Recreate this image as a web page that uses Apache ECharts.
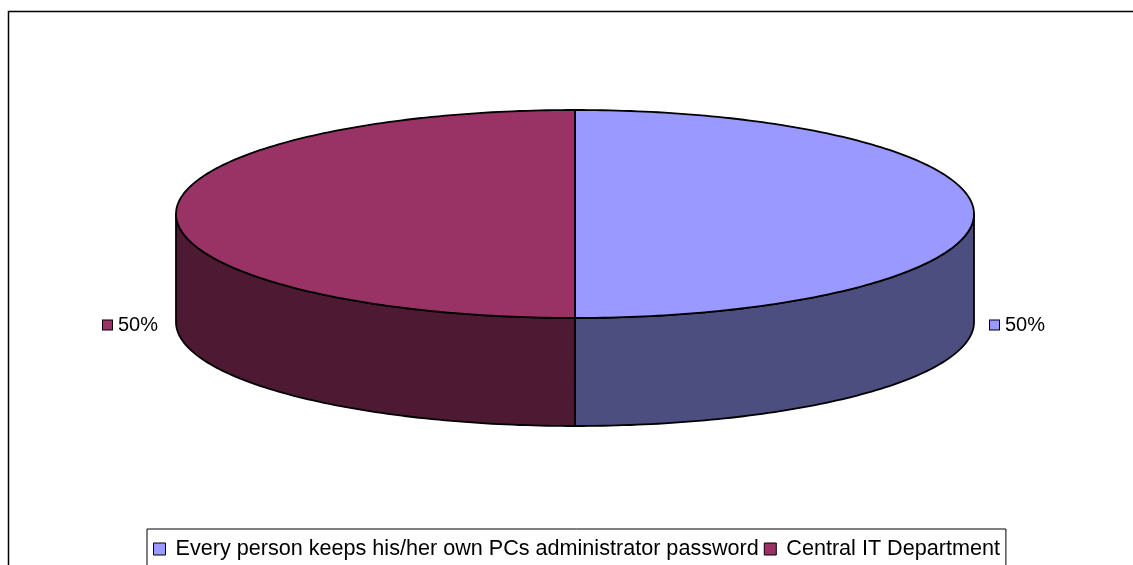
<!DOCTYPE html>
<html>
<head>
<meta charset="utf-8">
<script src="https://cdn.jsdelivr.net/npm/echarts@6/dist/echarts.min.js"></script>
<style>
  html, body { margin: 0; padding: 0; background: #fff; }
  #chart { width: 1133px; height: 565px; }
</style>
</head>
<body>
<div id="chart"></div>
<script>
// Who keeps the PC administrator password
const categories = [
  'Every person keeps his/her own PCs administrator password',
  'Central IT Department'
];
const shares = [50, 50];
const topColors = ['#9999FF', '#993366'];
const sideColors = ['#4D4E80', '#4E1A33'];

// 3D pie layout (pixels): centre of the top face, radii, and wall depth
const PIE = { cx: 575, cy: 214, rx: 399, ry: 104, depth: 108 };
const FONT = 'Liberation Sans, Arial, sans-serif';

const total = shares.reduce((a, b) => a + b, 0);
const starts = [];
shares.reduce((acc, v, i) => { starts[i] = acc; return acc + v; }, 0);

// angle in degrees, clockwise from 12 o'clock
function pt(deg, dz) {
  const r = deg * Math.PI / 180;
  return [PIE.cx + PIE.rx * Math.sin(r), PIE.cy - PIE.ry * Math.cos(r) + (dz || 0)];
}
function arc(a0, a1, dz) {
  const pts = [];
  const n = Math.max(2, Math.ceil(Math.abs(a1 - a0)));
  for (let k = 0; k <= n; k++) pts.push(pt(a0 + (a1 - a0) * k / n, dz));
  return pts;
}

function sliceRenderer(idx) {
  return function (params, api) {
    const value = api.value(0);
    const a0 = starts[idx] / total * 360;
    const a1 = a0 + value / total * 360;
    const children = [];
    const stroke = { stroke: '#000', lineWidth: 1.8, lineJoin: 'round' };

    // front wall (visible between 90° and 270°)
    const s = Math.max(a0, 90), e = Math.min(a1, 270);
    if (s < e) {
      const side = arc(s, e, 0).concat(arc(e, s, PIE.depth));
      children.push({
        type: 'polygon',
        shape: { points: side },
        style: Object.assign({ fill: sideColors[idx] }, stroke)
      });
    }

    // top face
    const top = [[PIE.cx, PIE.cy]].concat(arc(a0, a1, 0));
    children.push({
      type: 'polygon',
      shape: { points: top },
      style: Object.assign({ fill: topColors[idx] }, stroke)
    });

    // outside label: colour key + percentage
    const mid = (a0 + a1) / 2;
    const anchor = pt(mid, PIE.depth);
    const right = Math.sin(mid * Math.PI / 180) >= 0;
    const pct = Math.round(value / total * 100) + '%';
    children.push({
      type: 'text',
      x: anchor[0] + (right ? 16 : -18),
      y: anchor[1] + 3,
      style: {
        text: '{sq|}{t|' + pct + '}',
        align: right ? 'left' : 'right',
        verticalAlign: 'middle',
        rich: {
          sq: {
            width: 9, height: 9,
            backgroundColor: topColors[idx],
            borderColor: '#000', borderWidth: 1
          },
          t: {
            fontSize: 20, fontFamily: FONT, fill: '#000',
            padding: [0, 0, 0, 6]
          }
        }
      }
    });
    return { type: 'group', children: children };
  };
}

const chart = echarts.init(document.getElementById('chart'), null, { renderer: 'canvas' });
chart.setOption({
  animation: false,
  backgroundColor: '#fff',
  graphic: [{
    type: 'rect',
    silent: true,
    shape: { x: 8.5, y: 11.5, width: 1200, height: 600 },
    style: { fill: null, stroke: '#000', lineWidth: 1.5 }
  }],
  legend: {
    left: 147,
    top: 529,
    padding: [9, 6, 14, 6],
    borderColor: '#000',
    borderWidth: 1,
    itemWidth: 12,
    itemHeight: 12,
    itemGap: 5,
    icon: 'rect',
    itemStyle: { borderColor: '#000', borderWidth: 1 },
    formatter: name => '{g|}' + name,
    textStyle: {
      fontSize: 21.6, fontFamily: FONT, color: '#000',
      rich: { g: { width: 5 } }
    },
    data: categories
  },
  series: categories.map((name, i) => ({
    type: 'custom',
    name: name,
    coordinateSystem: 'none',
    itemStyle: { color: topColors[i] },
    renderItem: sliceRenderer(i),
    data: [[shares[i]]]
  }))
});
</script>
</body>
</html>
